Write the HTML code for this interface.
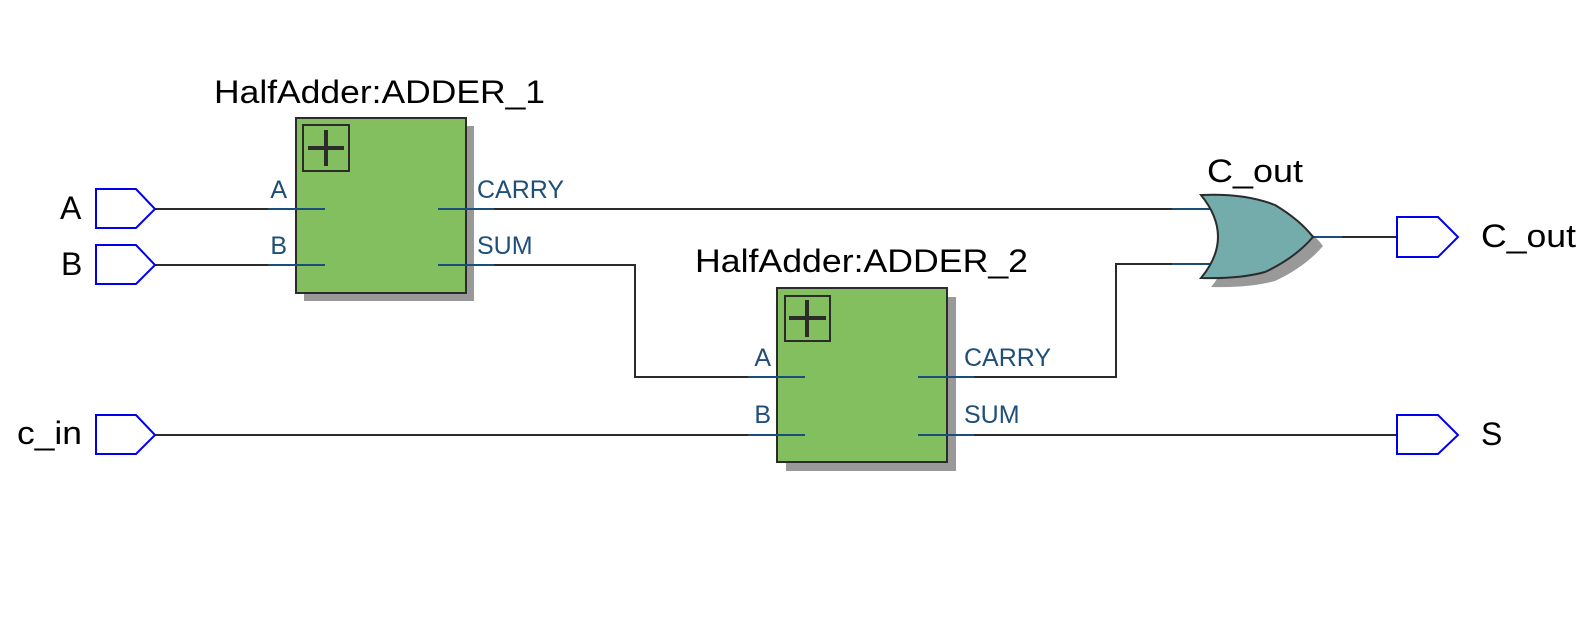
<!DOCTYPE html>
<html><head><meta charset="utf-8"><style>
html,body{margin:0;padding:0;background:#fff;}
svg{display:block;}
text{font-family:"Liberation Sans","DejaVu Sans",sans-serif;}
</style></head><body>
<svg width="1593" height="618" viewBox="0 0 1593 618" xmlns="http://www.w3.org/2000/svg">
<rect width="1593" height="618" fill="#fff"/>
<g stroke="#2b2b2b" stroke-width="2" fill="none">
<line x1="155" y1="209" x2="296" y2="209"/>
<line x1="155" y1="265" x2="296" y2="265"/>
<line x1="466" y1="209" x2="1201" y2="209"/>
<polyline points="466,265 635,265 635,377 777,377"/>
<line x1="155" y1="435" x2="777" y2="435"/>
<polyline points="947,377 1116,377 1116,264 1201,264"/>
<line x1="947" y1="435" x2="1397" y2="435"/>
<line x1="1313" y1="237" x2="1397" y2="237"/>
</g>
<rect x="304" y="126" width="170" height="175" fill="#999"/>
<rect x="296" y="118" width="170" height="175" fill="#83bf5e" stroke="#2b2b2b" stroke-width="2"/>
<rect x="303" y="125" width="46" height="46" fill="none" stroke="#2b2b2b" stroke-width="2"/>
<line x1="308" y1="148" x2="344" y2="148" stroke="#2b2b2b" stroke-width="4"/>
<line x1="326" y1="130" x2="326" y2="166" stroke="#2b2b2b" stroke-width="4"/>
<g stroke="#1a4f7a" stroke-width="2">
<line x1="268" y1="209" x2="325" y2="209"/><line x1="268" y1="265" x2="325" y2="265"/>
<line x1="438" y1="209" x2="494" y2="209"/><line x1="438" y1="265" x2="494" y2="265"/>
</g>
<g fill="#1f4e79" font-size="25">
<text x="287" y="198" text-anchor="end">A</text>
<text x="287" y="254" text-anchor="end">B</text>
<text x="477" y="198">CARRY</text>
<text x="477" y="254">SUM</text>
</g>
<text x="214" y="103" font-size="32" fill="#000" textLength="331" lengthAdjust="spacingAndGlyphs">HalfAdder:ADDER_1</text>
<rect x="786" y="297" width="170" height="174" fill="#999"/>
<rect x="777" y="288" width="170" height="174" fill="#83bf5e" stroke="#2b2b2b" stroke-width="2"/>
<rect x="785" y="296" width="45" height="45" fill="none" stroke="#2b2b2b" stroke-width="2"/>
<line x1="789" y1="318" x2="826" y2="318" stroke="#2b2b2b" stroke-width="4"/>
<line x1="807" y1="300" x2="807" y2="337" stroke="#2b2b2b" stroke-width="4"/>
<g stroke="#1a4f7a" stroke-width="2">
<line x1="748" y1="377" x2="805" y2="377"/><line x1="748" y1="435" x2="805" y2="435"/>
<line x1="918" y1="377" x2="974" y2="377"/><line x1="918" y1="435" x2="974" y2="435"/>
</g>
<g fill="#1f4e79" font-size="25">
<text x="771" y="366" text-anchor="end">A</text>
<text x="771" y="423" text-anchor="end">B</text>
<text x="964" y="366">CARRY</text>
<text x="964" y="423">SUM</text>
</g>
<text x="695" y="272" font-size="32" fill="#000" textLength="333" lengthAdjust="spacingAndGlyphs">HalfAdder:ADDER_2</text>
<path d="M1211,204 Q1255,202 1285,214 Q1310,229 1323,246 Q1305,267 1275,281 Q1250,288 1211,287 Q1245,246 1211,204 Z" fill="#999"/>
<g stroke="#1a4f7a" stroke-width="2">
<line x1="1172" y1="209" x2="1215" y2="209"/><line x1="1172" y1="264" x2="1215" y2="264"/>
<line x1="1313" y1="237" x2="1342" y2="237"/>
</g>
<path d="M1201,195 Q1245,193 1275,205 Q1300,220 1313,237 Q1295,258 1265,272 Q1240,279 1201,278 Q1235,237 1201,195 Z" fill="#74acac" stroke="#2b2b2b" stroke-width="2"/>
<text x="1207" y="182" font-size="32" fill="#000" textLength="96" lengthAdjust="spacingAndGlyphs">C_out</text>
<g fill="#fff" stroke="#0000ee" stroke-width="2">
<polygon points="96,189 136,189 155,209 136,228 96,228"/>
<polygon points="96,245 136,245 155,265 136,284 96,284"/>
<polygon points="96,415 136,415 155,435 136,454 96,454"/>
<polygon points="1397,217 1438,217 1458,237 1438,257 1397,257"/>
<polygon points="1397,415 1438,415 1458,435 1438,454 1397,454"/>
</g>
<g font-size="32" fill="#000">
<text x="60" y="219">A</text>
<text x="61" y="275">B</text>
<text x="17" y="444" textLength="65" lengthAdjust="spacingAndGlyphs">c_in</text>
<text x="1481" y="247" textLength="95" lengthAdjust="spacingAndGlyphs">C_out</text>
<text x="1481" y="445">S</text>
</g>
</svg>
</body></html>
